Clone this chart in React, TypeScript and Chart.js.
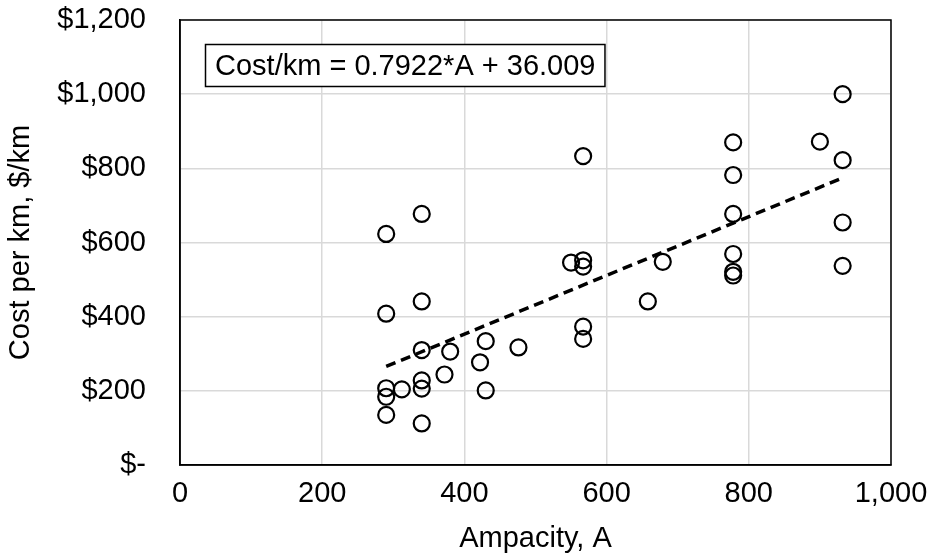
import React, { useEffect, useRef } from "react";
import { Chart, registerables } from "chart.js";

Chart.register(...registerables);

// Data
const ampacity = [
  290, 290, 290, 290, 290, 312, 340, 340, 340, 340, 340, 340, 372, 380, 422, 430, 430, 476,
  550, 567, 567, 567, 567, 567, 658, 679, 778, 778, 778, 778, 778, 778, 900, 932, 932, 932, 932,
];
const costPerKm = [
  623, 408, 207, 184, 135, 204, 677, 441, 310, 228, 206, 112, 244, 306, 277, 334, 201, 317,
  546, 833, 552, 535, 373, 340, 441, 548, 870, 782, 677, 569, 521, 511, 872, 1000, 822, 654, 537,
];
// Trendline end points
const trendX = [290, 932];
const trendY = [265.7, 774.3];

const xTicks = [0, 200, 400, 600, 800, 1000];
const yTicks = [0, 200, 400, 600, 800, 1000, 1200];
const equationText = "Cost/km = 0.7922*A + 36.009";
const xTitle = "Ampacity, A";
const yTitle = "Cost per km, $/km";

const FONT = '"Liberation Sans", Arial, Helvetica, sans-serif';

const framePlugin = {
  id: "frameAndEquation",
  afterDraw(chart: any) {
    const { ctx, chartArea } = chart;
    const { left, top, right, bottom } = chartArea;
    ctx.save();
    ctx.strokeStyle = "#000";
    ctx.lineWidth = 1.5;
    ctx.strokeRect(left, top, right - left, bottom - top);

    ctx.font = `29px ${FONT}`;
    const w = ctx.measureText(equationText).width;
    const bx = left + 25.5;
    const by = top + 24.5;
    const bw = w + 19;
    const bh = 42;
    ctx.fillStyle = "#fff";
    ctx.fillRect(bx, by, bw, bh);
    ctx.strokeRect(bx, by, bw, bh);
    ctx.fillStyle = "#000";
    ctx.textBaseline = "middle";
    ctx.textAlign = "left";
    ctx.fillText(equationText, bx + 9.5, by + bh / 2 + 1);
    ctx.restore();
  },
};

export default function App() {
  const ref = useRef<HTMLCanvasElement | null>(null);

  useEffect(() => {
    if (!ref.current) return;
    Chart.defaults.font.family = FONT;
    Chart.defaults.font.size = 29;
    Chart.defaults.color = "#000";

    const points = ampacity.map((a, i) => ({ x: a, y: costPerKm[i] }));
    const trend = trendX.map((a, i) => ({ x: a, y: trendY[i] }));

    const chart = new Chart(ref.current, {
      type: "scatter",
      data: {
        datasets: [
          {
            label: "Cost per km",
            data: points,
            pointStyle: "circle",
            pointRadius: 8,
            pointBorderWidth: 2.2,
            pointBorderColor: "#000",
            pointBackgroundColor: "rgba(0,0,0,0)",
            showLine: false,
          },
          {
            label: "Trend",
            data: trend,
            showLine: true,
            pointRadius: 0,
            borderColor: "#000",
            borderWidth: 3.5,
            borderDash: [10, 6],
            fill: false,
          },
        ],
      },
      options: {
        responsive: false,
        animation: false,
        layout: { padding: { top: 0, right: 0, bottom: 0, left: 0 } },
        plugins: { legend: { display: false }, tooltip: { enabled: false } },
        scales: {
          x: {
            type: "linear",
            min: 0,
            max: 1000,
            afterBuildTicks: (scale: any) => {
              scale.ticks = xTicks.map((v) => ({ value: v }));
            },
            afterFit: (scale: any) => {
              scale.height = 91;
              scale.paddingLeft = 0;
              scale.paddingRight = 39;
            },
            ticks: {
              padding: 12,
              maxRotation: 0,
              callback: (v: any) => Number(v).toLocaleString("en-US"),
            },
            grid: { color: "#d9d9d9", lineWidth: 1.5, drawTicks: false },
            border: { display: true, color: "#000", width: 1.5 },
            title: { display: true, text: xTitle, padding: { top: 0, bottom: 0 } },
          },
          y: {
            type: "linear",
            min: 0,
            max: 1200,
            afterBuildTicks: (scale: any) => {
              scale.ticks = yTicks.map((v) => ({ value: v }));
            },
            afterFit: (scale: any) => {
              scale.width = 180;
              scale.paddingTop = 20;
              scale.paddingBottom = 0;
            },
            ticks: {
              padding: 34,
              callback: (v: any) => (Number(v) === 0 ? "$-" : "$" + Number(v).toLocaleString("en-US")),
            },
            grid: { color: "#d9d9d9", lineWidth: 1.5, drawTicks: false },
            border: { display: true, color: "#000", width: 1.5 },
            title: { display: true, text: yTitle, padding: { top: 4, bottom: 0 } },
          },
        },
      },
      plugins: [framePlugin],
    });
    return () => chart.destroy();
  }, []);

  return (
    <div style={{ position: "absolute", left: 0, top: 0, width: 930, height: 556, background: "#fff" }}>
      <canvas ref={ref} width={930} height={556} />
    </div>
  );
}
